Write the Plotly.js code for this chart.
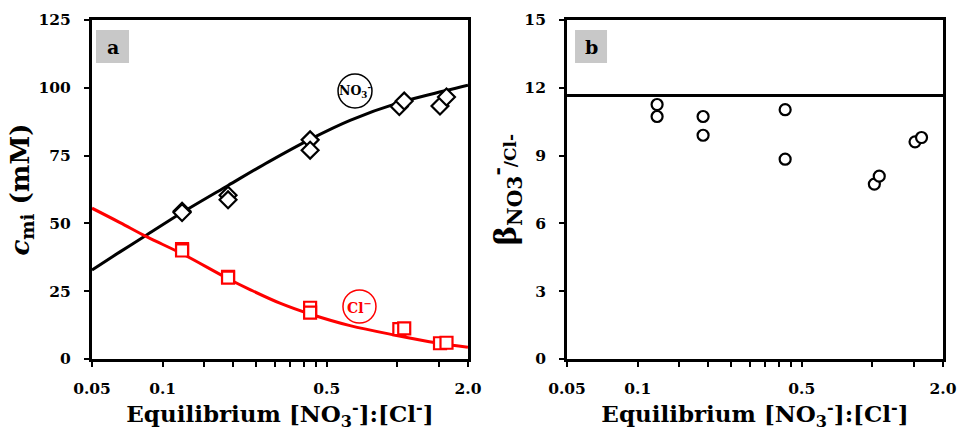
<!DOCTYPE html>
<html>
<head>
<meta charset="utf-8">
<script src="https://cdn.plot.ly/plotly-3.0.1.min.js"></script>
<style>html,body{margin:0;padding:0;background:#fff;}#chart{width:958px;height:431px;}</style>
</head>
<body>
<div id="chart"></div>
<script>
// ----- measured data -----
const ratio = [0.121, 0.121, 0.19, 0.19, 0.425, 0.425, 1.02, 1.07, 1.52, 1.62];
const cNO3 = [54.5, 54.0, 60.4, 58.7, 80.8, 77.0, 93.1, 95.1, 93.3, 96.6];
const cCl = [40.5, 40.0, 30.3, 30.0, 18.9, 17.1, 11.0, 11.3, 5.8, 6.0];
const beta = [11.26, 10.73, 10.73, 9.90, 11.03, 8.84, 7.74, 8.09, 9.61, 9.80];

// fitted model curves
const fitX = [0.05, 0.0658, 0.0858, 0.121, 0.19, 0.284, 0.4245, 0.629, 1.026, 1.612, 2.0];
const fitNO3 = [32.8, 39.5, 45.8, 54.0, 64.0, 72.8, 81.0, 88.0, 94.6, 99.0, 101.0];
const fitClX = [0.05, 0.0658, 0.0858, 0.121, 0.19, 0.2356, 0.316, 0.4245, 0.629, 0.993, 1.484, 2.0];
const fitCl = [55.6, 50.3, 45.0, 38.8, 29.6, 25.6, 20.6, 16.6, 12.3, 8.7, 5.9, 4.3];

const betaLineX = [0.05, 2.0];
const betaLineY = [11.66, 11.66];

const xTickVals = [0.05, 0.1, 0.5, 2.0];
const xTickText = ['0.05', '0.1', '0.5', '2.0'];
const xMinorVals = [0.15, 0.2, 0.25, 0.3, 0.35, 0.4, 0.45, 1.0, 1.5];
const yTicksA = [0, 25, 50, 75, 100, 125];
const yTicksB = [0, 3, 6, 9, 12, 15];

// ----- chart -----
const SERIF = 'DejaVu Serif';
const traces = [
  {x: fitX, y: fitNO3, xaxis: 'x', yaxis: 'y', mode: 'lines', line: {color: '#000', width: 3, shape: 'spline', smoothing: 1}, hoverinfo: 'skip'},
  {x: fitClX, y: fitCl, xaxis: 'x', yaxis: 'y', mode: 'lines', line: {color: '#ff0000', width: 3, shape: 'spline', smoothing: 1}, hoverinfo: 'skip'},
  {x: ratio, y: cNO3, xaxis: 'x', yaxis: 'y', mode: 'markers',
   marker: {symbol: 'diamond', size: 13, color: '#fff', line: {color: '#000', width: 2.2}}},
  {x: ratio, y: cCl, xaxis: 'x', yaxis: 'y', mode: 'markers',
   marker: {symbol: 'square', size: 12, color: '#fff', line: {color: '#ff0000', width: 2.2}}},
  {x: betaLineX, y: betaLineY, xaxis: 'x2', yaxis: 'y2', mode: 'lines', line: {color: '#000', width: 3}},
  {x: ratio, y: beta, xaxis: 'x2', yaxis: 'y2', mode: 'markers',
   marker: {symbol: 'circle', size: 11, color: '#fff', line: {color: '#000', width: 2.2}}}
];

const tickFont = {family: SERIF, size: 15.5, color: '#000', weight: 'bold'};
function xAxis(domain, anchor) {
  return {
    domain: domain, anchor: anchor, type: 'log',
    range: [Math.log10(0.05), Math.log10(2.0)],
    tickmode: 'array', tickvals: xTickVals, ticktext: xTickText,
    ticks: 'outside', ticklen: 5, tickwidth: 2, tickcolor: '#000',
    minor: {tickmode: 'array', tickvals: xMinorVals, ticks: 'outside', ticklen: 5, tickwidth: 2, tickcolor: '#000', showgrid: false},
    showline: true, linewidth: 3, linecolor: '#000', mirror: true,
    showgrid: false, zeroline: false, automargin: false,
    tickfont: tickFont, ticklabelstandoff: 8,
    title: {text: 'Equilibrium [NO<sub>3</sub><sup>-</sup>]:[Cl<sup>-</sup>]', font: {family: SERIF, size: 23, color: '#000', weight: 'bold'}, standoff: 13}
  };
}
function yAxis(anchor, ticks, range, titleText, titleSize, standoff) {
  return {
    anchor: anchor, domain: [0, 1], range: range,
    tickmode: 'array', tickvals: ticks,
    ticks: 'outside', ticklen: 5, tickwidth: 2, tickcolor: '#000',
    showline: true, linewidth: 3, linecolor: '#000', mirror: true,
    showgrid: false, zeroline: false, automargin: false,
    tickfont: tickFont, ticklabelstandoff: 10,
    title: {text: titleText, font: {family: SERIF, size: titleSize, color: '#000', weight: 'bold'}, standoff: standoff}
  };
}

const layout = {
  width: 958, height: 431,
  margin: {l: 92, r: 15, t: 20, b: 72},
  paper_bgcolor: '#fff', plot_bgcolor: '#fff',
  showlegend: false,
  xaxis: xAxis([0, 0.4418], 'y'),
  yaxis: yAxis('x', yTicksA, [0, 125], '<i>c</i><sub>mi</sub> (mM)', 26, 2),
  xaxis2: xAxis([0.5582, 1], 'y2'),
  yaxis2: yAxis('x2', yTicksB, [0, 15], 'β<sub>NO3</sub><sup>-</sup><span style="font-size:17px">/Cl-</span>', 29, 0),
  shapes: [
    {type: 'rect', xref: 'paper', yref: 'paper', x0: 0.0047, x1: 0.0435, y0: 0.873, y1: 0.9705, fillcolor: '#c8c8c8', line: {width: 0}, layer: 'below'},
    {type: 'rect', xref: 'paper', yref: 'paper', x0: 0.5676, x1: 0.6052, y0: 0.873, y1: 0.9705, fillcolor: '#c8c8c8', line: {width: 0}, layer: 'below'},
    {type: 'circle', xref: 'paper', yref: 'paper', x0: 0.2891, x1: 0.329, y0: 0.7404, y1: 0.8407, line: {color: '#000', width: 1.5}},
    {type: 'circle', xref: 'paper', yref: 'paper', x0: 0.2949, x1: 0.3337, y0: 0.1062, y1: 0.2035, line: {color: '#ff0000', width: 1.5}}
  ],
  annotations: [
    {xref: 'paper', yref: 'paper', x: 0.0241, y: 0.9218, xanchor: 'center', yanchor: 'middle', text: 'a', showarrow: false, font: {family: SERIF, size: 19, color: '#000', weight: 'bold'}},
    {xref: 'paper', yref: 'paper', x: 0.5864, y: 0.9218, xanchor: 'center', yanchor: 'middle', text: 'b', showarrow: false, font: {family: SERIF, size: 19, color: '#000', weight: 'bold'}},
    {xref: 'paper', yref: 'paper', x: 0.309, y: 0.7905, xanchor: 'center', yanchor: 'middle', text: 'NO<sub>3</sub><sup>-</sup>', showarrow: false, font: {family: SERIF, size: 12.5, color: '#000', weight: 'bold'}},
    {xref: 'paper', yref: 'paper', x: 0.3143, y: 0.1548, xanchor: 'center', yanchor: 'middle', text: 'Cl<sup>−</sup>', showarrow: false, font: {family: SERIF, size: 14, color: '#ff0000', weight: 'bold'}}
  ]
};

Plotly.newPlot('chart', traces, layout, {displayModeBar: false, staticPlot: true});
</script>
</body>
</html>
